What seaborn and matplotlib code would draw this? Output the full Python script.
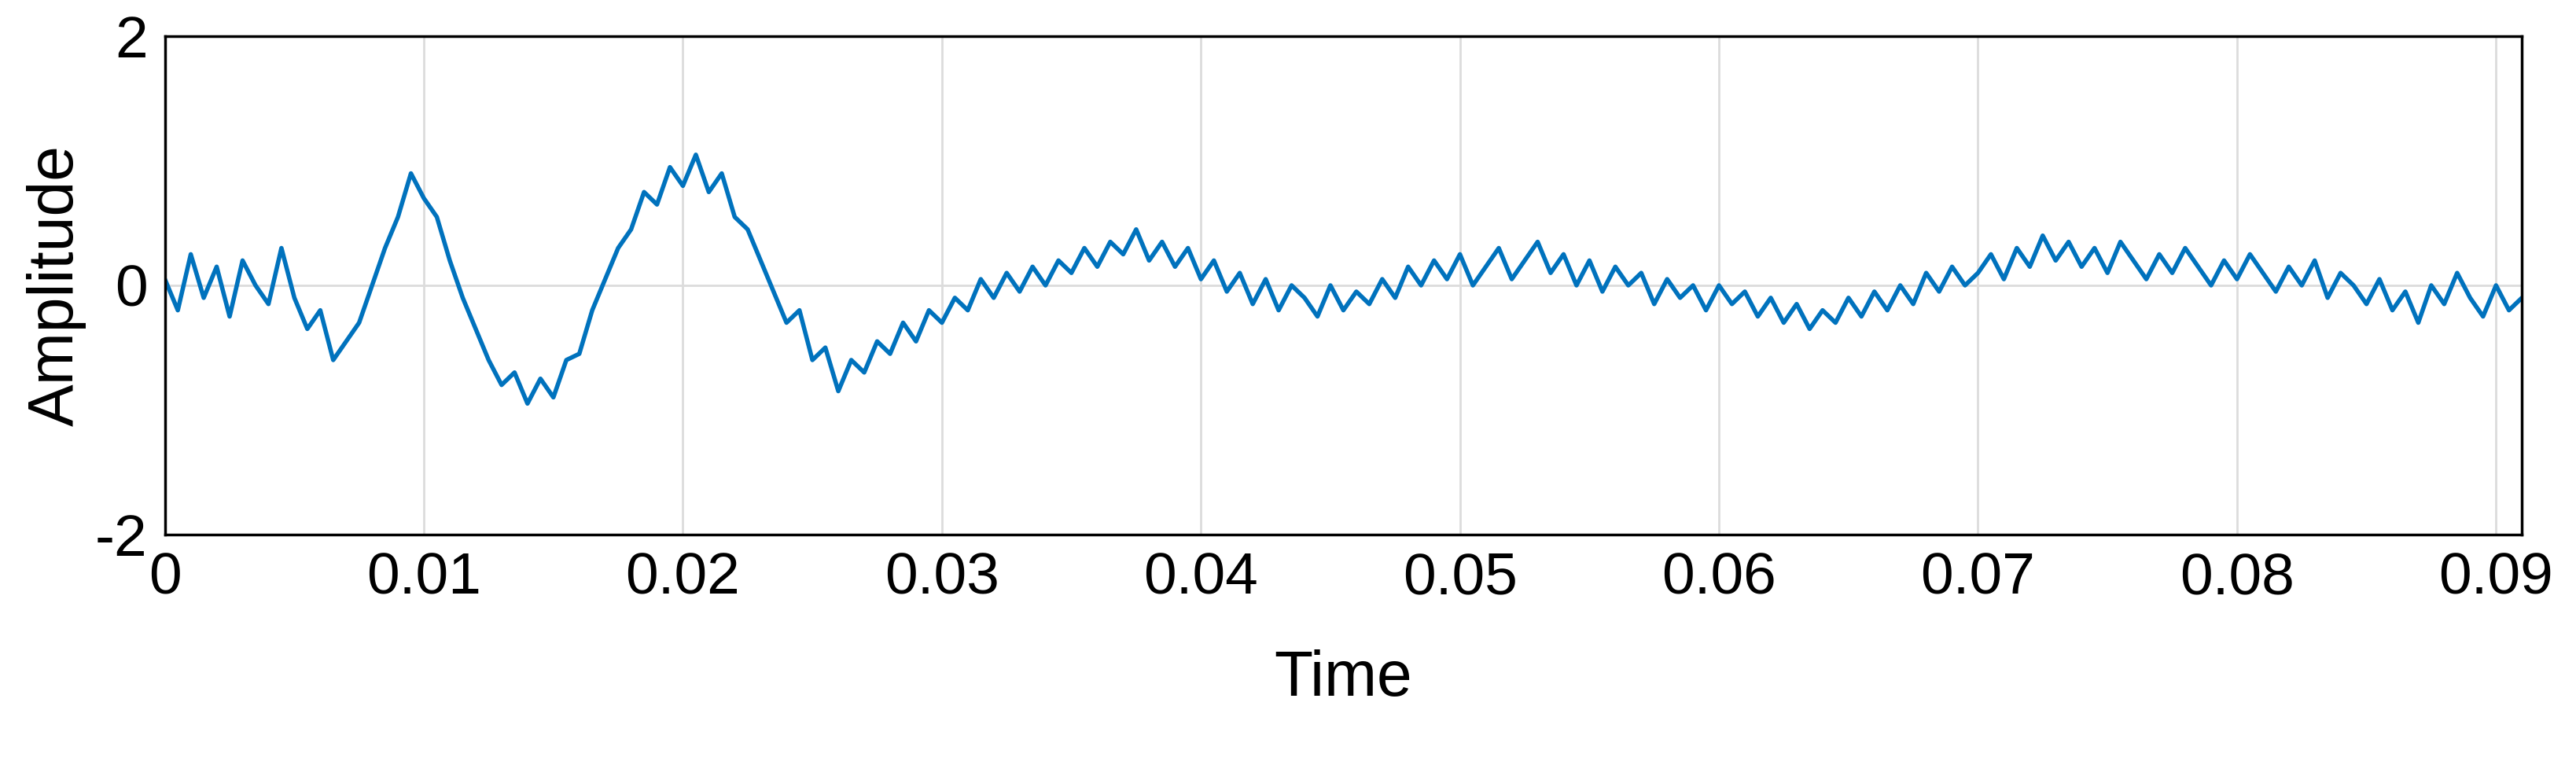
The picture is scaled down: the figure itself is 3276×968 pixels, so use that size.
import numpy as np
import pandas as pd
import matplotlib
matplotlib.use("Agg")
import matplotlib.pyplot as plt
import seaborn as sns

# amplitude, one value every 0.0005 s
amplitude = [
    0.05, -0.2, 0.25, -0.1, 0.15, -0.25, 0.2, 0.0, -0.15, 0.3,
    -0.1, -0.35, -0.2, -0.6, -0.45, -0.3, 0.0, 0.3, 0.55, 0.9,
    0.7, 0.55, 0.2, -0.1, -0.35, -0.6, -0.8, -0.7, -0.95, -0.75,
    -0.9, -0.6, -0.55, -0.2, 0.05, 0.3, 0.45, 0.75, 0.65, 0.95,
    0.8, 1.05, 0.75, 0.9, 0.55, 0.45, 0.2, -0.05, -0.3, -0.2,
    -0.6, -0.5, -0.85, -0.6, -0.7, -0.45, -0.55, -0.3, -0.45, -0.2,
    -0.3, -0.1, -0.2, 0.05, -0.1, 0.1, -0.05, 0.15, 0.0, 0.2,
    0.1, 0.3, 0.15, 0.35, 0.25, 0.45, 0.2, 0.35, 0.15, 0.3,
    0.05, 0.2, -0.05, 0.1, -0.15, 0.05, -0.2, 0.0, -0.1, -0.25,
    0.0, -0.2, -0.05, -0.15, 0.05, -0.1, 0.15, 0.0, 0.2, 0.05,
    0.25, 0.0, 0.15, 0.3, 0.05, 0.2, 0.35, 0.1, 0.25, 0.0,
    0.2, -0.05, 0.15, 0.0, 0.1, -0.15, 0.05, -0.1, 0.0, -0.2,
    0.0, -0.15, -0.05, -0.25, -0.1, -0.3, -0.15, -0.35, -0.2, -0.3,
    -0.1, -0.25, -0.05, -0.2, 0.0, -0.15, 0.1, -0.05, 0.15, 0.0,
    0.1, 0.25, 0.05, 0.3, 0.15, 0.4, 0.2, 0.35, 0.15, 0.3,
    0.1, 0.35, 0.2, 0.05, 0.25, 0.1, 0.3, 0.15, 0.0, 0.2,
    0.05, 0.25, 0.1, -0.05, 0.15, 0.0, 0.2, -0.1, 0.1, 0.0,
    -0.15, 0.05, -0.2, -0.05, -0.3, 0.0, -0.15, 0.1, -0.1, -0.25,
    0.0, -0.2, -0.1,
]
time = np.arange(len(amplitude)) * 0.0005
x_ticks = [0, 0.01, 0.02, 0.03, 0.04, 0.05, 0.06, 0.07, 0.08, 0.09]
x_labels = ["0", "0.01", "0.02", "0.03", "0.04", "0.05", "0.06", "0.07", "0.08", "0.09"]
y_ticks = [-2, 0, 2]
y_labels = ["-2", "0", "2"]

df = pd.DataFrame({"Time": time, "Amplitude": amplitude})

sns.set_style("white")
plt.rcParams['font.family'] = ['Liberation Sans', 'DejaVu Sans']

fig = plt.figure(figsize=(32.76, 9.68), dpi=100)
ax = fig.add_axes([0.064, 0.298, 0.915, 0.654])
sns.lineplot(data=df, x="Time", y="Amplitude", color="#0072BD", linewidth=4, ax=ax)

ax.set_xlim(0, 0.091)
ax.set_ylim(-2, 2)
ax.set_xticks(x_ticks)
ax.set_xticklabels(x_labels)
ax.set_yticks(y_ticks)
ax.set_yticklabels(y_labels)
ax.grid(True, color="#dcdcdc", linewidth=2)
ax.tick_params(labelsize=54, labelcolor="black", direction="in", length=12, width=2, pad=16)
for s in ax.spines.values():
    s.set_color("black")
    s.set_linewidth(2.5)
ax.set_xlabel("Time", fontsize=58, labelpad=40, color="black")
ax.set_ylabel("Amplitude", fontsize=58, labelpad=8, color="black")

fig.savefig("out.png", dpi=100)
